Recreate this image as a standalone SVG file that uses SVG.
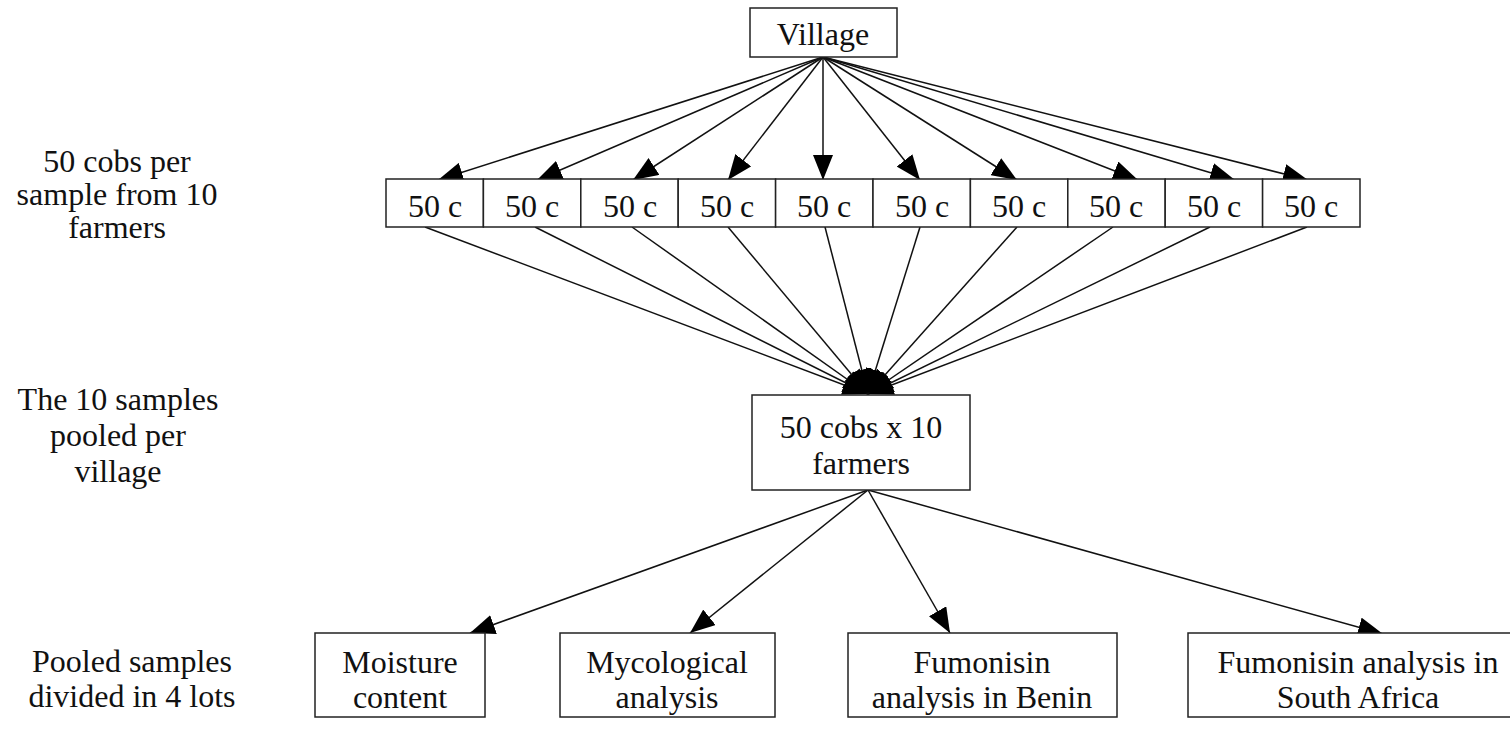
<svg xmlns="http://www.w3.org/2000/svg" width="1510" height="729" viewBox="0 0 1510 729">
<style>
text{font-family:"Liberation Serif","Times New Roman",serif;font-size:32px;fill:#111;text-anchor:middle}
.box{fill:#fff;stroke:#222;stroke-width:1.5}
.c{stroke:#111;stroke-width:1.5;fill:none}
.a{marker-end:url(#ah)}
</style>
<defs>
<marker id="ah" markerUnits="userSpaceOnUse" markerWidth="26" markerHeight="20" refX="25" refY="10" orient="auto">
<path d="M0,0 L25,10 L0,20 Z" fill="#000"/>
</marker>
</defs>
<rect width="1510" height="729" fill="#fff"/>
<g id="labels">
<text x="117" y="172">50 cobs per</text>
<text x="117" y="205">sample from 10</text>
<text x="117" y="238">farmers</text>
<text x="118" y="410">The 10 samples</text>
<text x="118" y="446">pooled per</text>
<text x="118" y="482">village</text>
<text x="132" y="672">Pooled samples</text>
<text x="132" y="707">divided in 4 lots</text>
</g>
<g id="connectors">
<line class="c a" x1="823" y1="57" x2="438" y2="180"/>
<line class="c a" x1="823" y1="57" x2="537" y2="180"/>
<line class="c a" x1="823" y1="57" x2="633" y2="180"/>
<line class="c a" x1="823" y1="57" x2="728" y2="180"/>
<line class="c a" x1="823" y1="57" x2="823" y2="180"/>
<line class="c a" x1="823" y1="57" x2="920" y2="180"/>
<line class="c a" x1="823" y1="57" x2="1017" y2="180"/>
<line class="c a" x1="823" y1="57" x2="1138" y2="180"/>
<line class="c a" x1="823" y1="57" x2="1235" y2="180"/>
<line class="c a" x1="823" y1="57" x2="1308" y2="180"/>
<line class="c a" x1="425" y1="227" x2="868" y2="394"/>
<line class="c a" x1="535" y1="227" x2="868" y2="394"/>
<line class="c a" x1="632" y1="227" x2="868" y2="394"/>
<line class="c a" x1="728" y1="227" x2="868" y2="394"/>
<line class="c a" x1="825" y1="227" x2="868" y2="394"/>
<line class="c a" x1="920" y1="227" x2="868" y2="394"/>
<line class="c a" x1="1017" y1="227" x2="868" y2="394"/>
<line class="c a" x1="1113" y1="227" x2="868" y2="394"/>
<line class="c a" x1="1210" y1="227" x2="868" y2="394"/>
<line class="c a" x1="1307" y1="227" x2="868" y2="394"/>
<line class="c a" x1="868" y1="490" x2="470" y2="633"/>
<line class="c a" x1="868" y1="490" x2="690" y2="633"/>
<line class="c a" x1="868" y1="490" x2="950" y2="633"/>
<line class="c a" x1="868" y1="490" x2="1383" y2="634"/>
</g>
<g id="village">
<rect class="box" x="750" y="8" width="147" height="49"/>
<text x="823" y="45">Village</text>
</g>
<g id="samples">
<g id="s1"><rect class="box" x="386" y="179" width="97.4" height="48"/><text x="435" y="217">50 c</text></g>
<g id="s2"><rect class="box" x="483.4" y="179" width="97.4" height="48"/><text x="532" y="217">50 c</text></g>
<g id="s3"><rect class="box" x="580.8" y="179" width="97.4" height="48"/><text x="630" y="217">50 c</text></g>
<g id="s4"><rect class="box" x="678.2" y="179" width="97.4" height="48"/><text x="727" y="217">50 c</text></g>
<g id="s5"><rect class="box" x="775.6" y="179" width="97.4" height="48"/><text x="824" y="217">50 c</text></g>
<g id="s6"><rect class="box" x="873" y="179" width="97.4" height="48"/><text x="922" y="217">50 c</text></g>
<g id="s7"><rect class="box" x="970.4" y="179" width="97.4" height="48"/><text x="1019" y="217">50 c</text></g>
<g id="s8"><rect class="box" x="1067.8" y="179" width="97.4" height="48"/><text x="1116" y="217">50 c</text></g>
<g id="s9"><rect class="box" x="1165.2" y="179" width="97.4" height="48"/><text x="1214" y="217">50 c</text></g>
<g id="s10"><rect class="box" x="1262.6" y="179" width="97.4" height="48"/><text x="1311" y="217">50 c</text></g>
</g>
<g id="pooled">
<rect class="box" x="752" y="395" width="218" height="95"/>
<text x="861" y="438">50 cobs x 10</text>
<text x="861" y="474">farmers</text>
</g>
<g id="moisture">
<rect class="box" x="315" y="633" width="170" height="84"/>
<text x="400" y="673">Moisture</text>
<text x="400" y="708">content</text>
</g>
<g id="mycological">
<rect class="box" x="560" y="633" width="215" height="84"/>
<text x="667" y="673">Mycological</text>
<text x="667" y="708">analysis</text>
</g>
<g id="benin">
<rect class="box" x="848" y="633" width="269" height="84"/>
<text x="982" y="673">Fumonisin</text>
<text x="982" y="708">analysis in Benin</text>
</g>
<g id="southafrica">
<rect class="box" x="1188" y="633" width="330" height="84"/>
<text x="1358" y="673">Fumonisin analysis in</text>
<text x="1358" y="708">South Africa</text>
</g>
</svg>
